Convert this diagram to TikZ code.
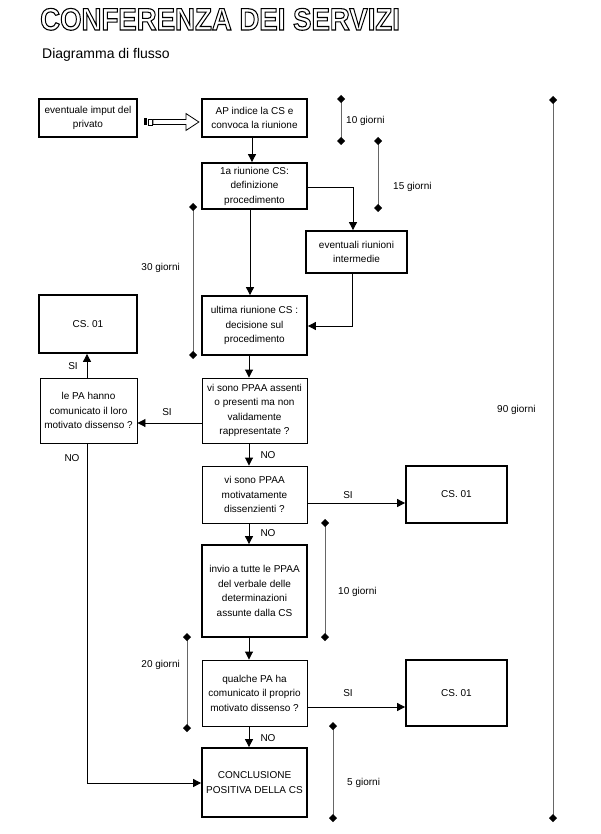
\documentclass[tikz,border=0pt]{standalone}
\usepackage{fontspec}
\setmainfont{Liberation Sans}
\usetikzlibrary{arrows.meta,calc}
\newcommand{\outlinetext}[1]{\special{pdf:literal direct 1 Tr 1.1 w}#1\special{pdf:literal direct 0 Tr}}
\begin{document}
\begin{tikzpicture}[x=1pt,y=-1pt,
  every node/.style={font=\fontsize{10}{14.5}\selectfont},
  boxbase/.style={draw=black, rectangle, align=center, inner sep=0pt},
  thickbox/.style={boxbase, line width=1.8pt},
  thinbox/.style={boxbase, line width=0.9pt},
  arr/.style={draw=black, line width=0.9pt, -{Triangle[length=8pt,width=8pt]}},
  dimline/.style={draw=black!60, line width=0.9pt,
    {Turned Square[length=8pt,width=8pt,black]}-{Turned Square[length=8pt,width=8pt,black]},
    shorten <=-4pt, shorten >=-4pt},
  lbl/.style={inner sep=0pt},
]
\fill[white] (0,0) rectangle (600,834);
\useasboundingbox (0,0) rectangle (600,834);

% title
\node[anchor=base west, inner sep=0pt, font=\fontsize{31}{34}\selectfont\bfseries] (title) at (40,30)
  {\scalebox{0.89}[1]{\outlinetext{CONFERENZA DEI SERVIZI}}};
\node[anchor=base west, inner sep=0pt, font=\fontsize{14}{16}\selectfont] (sub) at (42,59) {Diagramma di flusso};

% boxes
\node[thickbox, minimum width=98pt, minimum height=38pt] (b1) at (88,118) {eventuale imput del\\privato};
\node[thickbox, minimum width=105pt, minimum height=38pt] (b2) at (254.5,118) {AP indice la CS e\\convoca la riunione};
\node[thickbox, minimum width=105pt, minimum height=46pt] (b3) at (254.5,186) {1a riunione CS:\\definizione\\procedimento};
\node[thickbox, minimum width=101pt, minimum height=42pt] (b4) at (356.5,252) {eventuali riunioni\\intermedie};
\node[thickbox, minimum width=105pt, minimum height=59pt] (b5) at (254.5,325.5) {ultima riunione CS :\\decisione sul\\procedimento};
\node[thickbox, minimum width=98pt, minimum height=58pt] (c1) at (88,324) {CS. 01};
\node[thinbox, minimum width=97pt, minimum height=65pt] (d1) at (88.5,410.5) {le PA hanno\\comunicato il loro\\motivato dissenso ?};
\node[thinbox, minimum width=105pt, minimum height=65pt] (d2) at (254.5,410.5) {vi sono PPAA assenti\\o presenti ma non\\validamente\\rappresentate ?};
\node[thinbox, minimum width=105pt, minimum height=57pt] (d3) at (254.5,494.5) {vi sono PPAA\\motivatamente\\dissenzienti ?};
\node[thickbox, minimum width=101pt, minimum height=57pt] (c2) at (456.5,494.5) {CS. 01};
\node[thickbox, minimum width=105pt, minimum height=92pt] (b6) at (254.5,591) {invio a tutte le PPAA\\del verbale delle\\determinazioni\\assunte dalla CS};
\node[thinbox, minimum width=105pt, minimum height=66pt] (d4) at (254.5,693) {qualche PA ha\\comunicato il proprio\\motivato dissenso ?};
\node[thickbox, minimum width=101pt, minimum height=66pt] (c3) at (456.5,693) {CS. 01};
\node[thickbox, minimum width=105pt, minimum height=69pt] (b7) at (254.5,782.5) {CONCLUSIONE\\POSITIVA DELLA CS};

% helper coordinates
\coordinate (x87) at (87,0);
\coordinate (x249) at (249,0);
\coordinate (x250) at (250,0);
\coordinate (x252) at (252,0);
\coordinate (x352) at (352,0);
\coordinate (x353) at (353,0);
\coordinate (y187) at (0,187);
\coordinate (y326) at (0,326);
\coordinate (y423) at (0,423);
\coordinate (y503) at (0,503);
\coordinate (y707) at (0,707);
\coordinate (y783) at (0,783);

% hollow striped arrow b1 -> b2
\coordinate (ha) at ($(b1.east)+(6,4)$);
\fill[black] ($(ha)+(0,-3.5)$) rectangle ($(ha)+(3,3.5)$);
\draw[line width=0.8pt] ($(ha)+(4.5,-3)$) rectangle ($(ha)+(8,3)$);
\draw[line width=0.8pt, fill=white] ($(ha)+(9,-2.5)$) -- ($(ha)+(42,-2.5)$) -- ($(ha)+(42,-8.5)$)
  -- ($(ha)+(55,0)$) -- ($(ha)+(42,8.5)$) -- ($(ha)+(42,2.5)$) -- ($(ha)+(9,2.5)$) -- cycle;

% connectors
\draw[arr] (b2.south -| x252) -- (b3.north -| x252);
\draw[arr] (b3.east |- y187) -- (x353 |- y187) -- (b4.north -| x353);
\draw[arr] (b4.south -| x352) -- (x352 |- y326) -- (b5.east |- y326);
\draw[arr] (b3.south -| x250) -- (b5.north -| x250);
\draw[arr] (b5.south -| x249) -- (d2.north -| x249);
\draw[arr] (d2.west |- y423) -- (d1.east |- y423);
\draw[arr] (d1.north -| x87) -- (c1.south -| x87);
\draw[arr] (d1.south -| x87) -- (x87 |- y783) -- (b7.west |- y783);
\draw[arr] (d2.south -| x249) -- (d3.north -| x249);
\draw[arr] (d3.east |- y503) -- (c2.west |- y503);
\draw[arr] (d3.south -| x249) -- (b6.north -| x249);
\draw[arr] (b6.south -| x249) -- (d4.north -| x249);
\draw[arr] (d4.east |- y707) -- (c3.west |- y707);
\draw[arr] (d4.south -| x249) -- (b7.north -| x249);

% SI / NO labels
\node[lbl] (si1) at (167,412) {SI};
\node[lbl] (si2) at (73,366) {SI};
\node[lbl] (no1) at (72,458) {NO};
\node[lbl] (no2) at (268,455) {NO};
\node[lbl] (si3) at (348,495) {SI};
\node[lbl] (no3) at (268,533) {NO};
\node[lbl] (si4) at (348,693) {SI};
\node[lbl] (no4) at (268,738) {NO};

% time spans
\coordinate (ta1) at (341,99);  \coordinate (ta2) at (341,141);
\coordinate (tb1) at (378,141); \coordinate (tb2) at (378,208);
\coordinate (tc1) at (193,207); \coordinate (tc2) at (193,355);
\coordinate (td1) at (553,100); \coordinate (td2) at (553,818);
\coordinate (te1) at (325,523); \coordinate (te2) at (325,637);
\coordinate (tf1) at (187,637); \coordinate (tf2) at (187,728);
\coordinate (tg1) at (333,726); \coordinate (tg2) at (333,818);
\draw[dimline] (ta1) -- (ta2);
\draw[dimline] (tb1) -- (tb2);
\draw[dimline] (tc1) -- (tc2);
\draw[dimline] (td1) -- (td2);
\draw[dimline] (te1) -- (te2);
\draw[dimline] (tf1) -- (tf2);
\draw[dimline] (tg1) -- (tg2);
\node[lbl, anchor=west] (la) at (346,121) {10 giorni};
\node[lbl, anchor=west] (lb) at (393,187) {15 giorni};
\node[lbl, anchor=east] (lc) at (180,268) {30 giorni};
\node[lbl, anchor=west] (ld) at (497,410) {90 giorni};
\node[lbl, anchor=west] (le) at (338,592) {10 giorni};
\node[lbl, anchor=east] (lf) at (180,665) {20 giorni};
\node[lbl, anchor=west] (lg) at (347,783) {5 giorni};
\end{tikzpicture}
\end{document}
